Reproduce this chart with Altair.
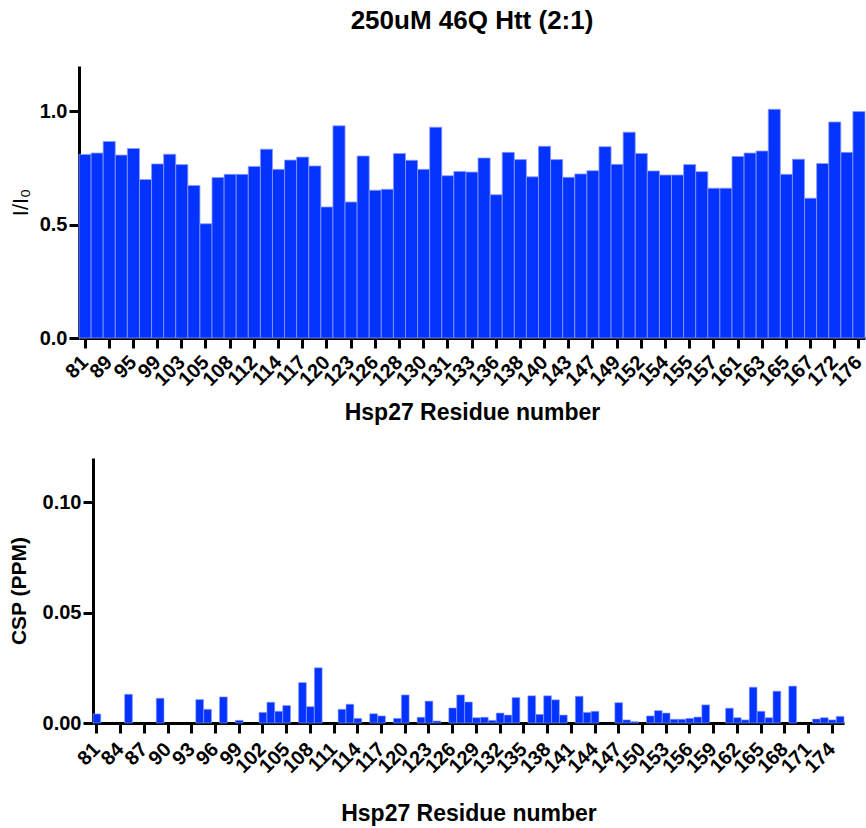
import altair as alt
import pandas as pd

title_text = "250uM 46Q Htt (2:1)"

# Top panel: residues shown as labels under every other bar
top_labels = ["81", "89", "95", "99", "103", "105", "108", "112", "114", "117",
              "120", "123", "126", "128", "130", "131", "133", "136", "138", "140",
              "143", "147", "149", "152", "154", "155", "157", "161", "163", "165",
              "167", "172", "176"]
top_values = [0.81, 0.816, 0.867, 0.807, 0.836, 0.699, 0.768, 0.811, 0.765, 0.673,
              0.504, 0.708, 0.722, 0.722, 0.757, 0.833, 0.744, 0.785, 0.798, 0.759,
              0.578, 0.936, 0.600, 0.803, 0.652, 0.656, 0.814, 0.784, 0.744, 0.930,
              0.716, 0.735, 0.732, 0.794, 0.632, 0.819, 0.787, 0.711, 0.846, 0.787,
              0.709, 0.724, 0.738, 0.844, 0.766, 0.908, 0.814, 0.737, 0.719, 0.719,
              0.765, 0.734, 0.661, 0.661, 0.801, 0.816, 0.825, 1.009, 0.722, 0.789,
              0.617, 0.770, 0.953, 0.819, 0.999]

# Bottom panel: chemical shift perturbation
csp_residues = [81, 85, 89, 94, 95, 97, 99, 102, 103, 104, 105, 107, 108, 109,
                112, 113, 114, 116, 117, 119, 120, 122, 123, 124, 126, 127, 128,
                129, 130, 131, 132, 133, 134, 136, 137, 138, 139, 140, 142, 143,
                144, 147, 148, 149, 151, 152, 153, 154, 155, 156, 157, 158, 161,
                162, 163, 164, 165, 166, 167, 169, 172, 173, 174, 175]
csp_values = [0.0041, 0.013, 0.0112, 0.0106, 0.0062, 0.0118, 0.0012, 0.0048,
              0.0094, 0.0053, 0.0079, 0.0183, 0.0074, 0.025, 0.0062, 0.0085,
              0.0021, 0.0042, 0.0032, 0.0021, 0.0127, 0.0026, 0.0099, 0.0009,
              0.0068, 0.0127, 0.0095, 0.0024, 0.0026, 0.0012, 0.0045, 0.0036,
              0.0115, 0.0123, 0.0039, 0.0123, 0.0105, 0.0036, 0.0121, 0.0048,
              0.0053, 0.0092, 0.0014, 0.0006, 0.0032, 0.0056, 0.0045, 0.0017,
              0.0017, 0.0021, 0.0027, 0.0082, 0.0067, 0.0024, 0.0014, 0.0162,
              0.0053, 0.0024, 0.0144, 0.0167, 0.0018, 0.0024, 0.0014, 0.003]
csp_first, csp_last = 81, 175

FONT = "Liberation Sans"
BLUE = "#0433FF"
EDGE = "#8a9bff"

axis_common = dict(
    domainColor="black", domainWidth=3, tickColor="black", tickWidth=3,
    tickSize=10, labelColor="black", labelFont=FONT, labelFontWeight="bold",
    labelFontSize=20, titleFont=FONT, titleColor="black", grid=False,
)

n_top = len(top_values)
top_df = pd.DataFrame({"pos": list(range(n_top)), "ratio": top_values})
tick_names = [top_labels[i // 2] if i % 2 == 0 else "" for i in range(n_top)]
label_expr = "[" + ",".join("'" + t + "'" for t in tick_names) + "][datum.value]"

top = alt.Chart(top_df).mark_bar(color=BLUE, stroke=EDGE, strokeWidth=0.8).encode(
    x=alt.X("pos:O", scale=alt.Scale(paddingInner=0, paddingOuter=0),
            axis=alt.Axis(values=list(range(0, n_top, 2)), labelExpr=label_expr,
                          labelAngle=-45, labelAlign="right", labelBaseline="middle",
                          labelPadding=11, title="Hsp27 Residue number",
                          titleFontSize=23, titleFontWeight="bold", titlePadding=12,
                          **axis_common)),
    y=alt.Y("ratio:Q", scale=alt.Scale(domain=[0, 1.2], nice=False),
            axis=alt.Axis(values=[0, 0.5, 1.0], format=".1f", title="I/I₀",
                          titleFontSize=22, titleFontWeight="normal",
                          labelPadding=2, titlePadding=7, **axis_common)),
).properties(
    width=786, height=272,
    title=alt.TitleParams(title_text, font=FONT, fontSize=26, fontWeight="bold",
                          color="black", anchor="middle", offset=32),
)

csp_df = pd.DataFrame({"residue": csp_residues, "csp": csp_values})
csp_domain = list(range(csp_first, csp_last + 1))

bottom = alt.Chart(csp_df).mark_bar(color=BLUE, stroke=EDGE, strokeWidth=0.6).encode(
    x=alt.X("residue:O",
            scale=alt.Scale(domain=csp_domain, range=[14, 765],
                            paddingInner=0.02, paddingOuter=0),
            axis=alt.Axis(values=csp_domain[::3], labelAngle=-45, labelAlign="right",
                          labelBaseline="middle", labelPadding=13,
                          title="Hsp27 Residue number", titleFontSize=23,
                          titleFontWeight="bold", titlePadding=26, **axis_common)),
    y=alt.Y("csp:Q", scale=alt.Scale(domain=[0, 0.12], nice=False),
            axis=alt.Axis(values=[0, 0.05, 0.10], format=".2f", title="CSP (PPM)",
                          titleFontSize=21, titleFontWeight="bold", offset=-14,
                          labelPadding=2, titlePadding=13, **axis_common)),
).properties(width=765, height=265)

chart = alt.vconcat(top, bottom, spacing=33).properties(
    padding={"left": 8, "top": 8, "right": 0, "bottom": 0}
).configure_view(stroke=None)

chart.save("out.html", embed_options={"renderer": "svg", "actions": False})
